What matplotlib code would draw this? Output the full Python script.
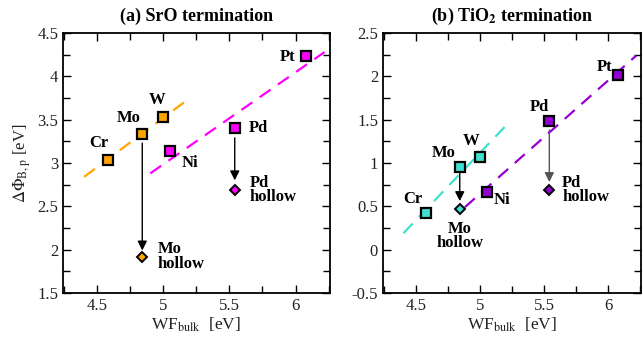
import matplotlib
matplotlib.use("Agg")
import matplotlib.pyplot as plt
from matplotlib.ticker import MultipleLocator, FuncFormatter

plt.rcParams['font.family'] = ['Liberation Serif', 'DejaVu Serif']
plt.rcParams['mathtext.fontset'] = 'stix'

metals = ['Cr', 'Mo', 'W', 'Ni', 'Pd', 'Pt']
wf = [4.58, 4.84, 5.00, 5.05, 5.54, 6.08]
sro = [3.04, 3.33, 3.53, 3.14, 3.40, 4.23]
tio2 = [0.42, 0.95, 1.07, 0.66, 1.48, 2.01]
# hollow positions (Mo, Pd)
hollow_wf = [4.84, 5.54]
sro_hollow = [1.92, 2.69]
tio2_hollow = [0.47, 0.69]

# fit lines (endpoints as read)
sro_fit1_x = [4.40, 5.20]; sro_fit1_y = [2.84, 3.75]
sro_fit2_x = [4.90, 6.22]; sro_fit2_y = [2.88, 4.28]
tio_fit1_x = [4.40, 5.20]; tio_fit1_y = [0.19, 1.43]
tio_fit2_x = [4.88, 6.22]; tio_fit2_y = [0.49, 2.24]

orange = '#FFA500'
magenta = '#FF00FF'
turq = '#40E0D0'
purple = '#9400D3'

fig = plt.figure(figsize=(6.43, 3.42), dpi=100)
axA = fig.add_axes([0.098, 0.1433, 0.415, 0.7602])
axB = fig.add_axes([0.5956, 0.1433, 0.4020, 0.7602])

fmt = FuncFormatter(lambda v, p: '%g' % round(v, 3))

def style(ax, ylo, yhi):
    ax.set_xlim(4.24, 6.26)
    ax.set_ylim(ylo, yhi)
    ax.xaxis.set_major_locator(MultipleLocator(0.5))
    ax.xaxis.set_minor_locator(MultipleLocator(0.25))
    ax.yaxis.set_major_locator(MultipleLocator(0.5))
    ax.yaxis.set_minor_locator(MultipleLocator(0.25))
    ax.xaxis.set_major_formatter(fmt)
    ax.yaxis.set_major_formatter(fmt)
    ax.tick_params(which='both', direction='in', top=True, right=True, labelsize=12, width=1.0,
                   labelcolor='#222222')
    ax.tick_params(which='major', length=6)
    ax.tick_params(which='minor', length=5)
    for s in ax.spines.values():
        s.set_linewidth(1.3)
    ax.set_xlabel(r'WF$_{\mathrm{bulk}}$  [eV]', fontsize=12.5, labelpad=1, color='#222222')

dash = (6, 4)
colsA = [orange, orange, orange, magenta, magenta, magenta]
colsB = [turq, turq, turq, purple, purple, purple]
fw = dict(fontsize=12, fontweight='bold')
ap = dict(arrowstyle='-|>', lw=1.0, mutation_scale=14, shrinkA=0, shrinkB=0)

# Panel A
ax = axA
style(ax, 1.5, 4.5)
ax.plot(sro_fit1_x, sro_fit1_y, color=orange, lw=1.6, dashes=dash)
ax.plot(sro_fit2_x, sro_fit2_y, color=magenta, lw=1.6, dashes=dash)
for x, y, c in zip(wf, sro, colsA):
    ax.plot(x, y, 's', ms=7.5, mfc=c, mec='black', mew=1.6)
for x, y, c in zip(hollow_wf, sro_hollow, [orange, magenta]):
    ax.plot(x, y, 'D', ms=5.5, mfc=c, mec='black', mew=1.4)
ax.annotate('', xy=(4.84, 1.99), xytext=(4.84, 3.23), arrowprops=dict(color='black', **ap))
ax.annotate('', xy=(5.54, 2.80), xytext=(5.54, 3.29), arrowprops=dict(color='black', **ap))
ax.text(4.51, 3.23, 'Cr', ha='center', va='center', **fw)
ax.text(4.735, 3.52, 'Mo', ha='center', va='center', **fw)
ax.text(4.95, 3.73, 'W', ha='center', va='center', **fw)
ax.text(5.2, 3.0, 'Ni', ha='center', va='center', **fw)
ax.text(5.72, 3.40, 'Pd', ha='center', va='center', **fw)
ax.text(5.94, 4.22, 'Pt', ha='center', va='center', **fw)
ax.text(5.65, 2.69, 'Pd\nhollow', ha='left', va='center', linespacing=0.85, **fw)
ax.text(4.955, 1.92, 'Mo\nhollow', ha='left', va='center', linespacing=0.85, **fw)
ax.set_ylabel(r'$\Delta\Phi_{\mathrm{B,p}}$ [eV]', fontsize=12, labelpad=3, color='#222222')
ax.set_title('(a) SrO termination', fontsize=13, fontweight='bold', pad=9)

# Panel B
ax = axB
style(ax, -0.5, 2.5)
ax.plot(tio_fit1_x, tio_fit1_y, color=turq, lw=1.6, dashes=dash)
ax.plot(tio_fit2_x, tio_fit2_y, color=purple, lw=1.6, dashes=dash)
for x, y, c in zip(wf, tio2, colsB):
    ax.plot(x, y, 's', ms=7.5, mfc=c, mec='black', mew=1.6)
for x, y, c in zip(hollow_wf, tio2_hollow, [turq, purple]):
    ax.plot(x, y, 'D', ms=5.5, mfc=c, mec='black', mew=1.4)
ax.annotate('', xy=(4.84, 0.56), xytext=(4.84, 0.88), arrowprops=dict(color='black', **ap))
ax.annotate('', xy=(5.54, 0.78), xytext=(5.54, 1.38), arrowprops=dict(color='#555555', **ap))
ax.text(4.474, 0.58, 'Cr', ha='center', va='center', **fw)
ax.text(4.713, 1.11, 'Mo', ha='center', va='center', **fw)
ax.text(4.93, 1.25, 'W', ha='center', va='center', **fw)
ax.text(5.17, 0.57, 'Ni', ha='center', va='center', **fw)
ax.text(5.46, 1.65, 'Pd', ha='center', va='center', **fw)
ax.text(5.97, 2.11, 'Pt', ha='center', va='center', **fw)
ax.text(5.64, 0.69, 'Pd\nhollow', ha='left', va='center', linespacing=0.85, **fw)
ax.text(4.84, 0.16, 'Mo\nhollow', ha='center', va='center', linespacing=0.85, **fw)
ax.set_title(r'(b) TiO$_\mathbf{2}$ termination', fontsize=13, fontweight='bold', pad=9)

fig.savefig('out.png', dpi=100)
